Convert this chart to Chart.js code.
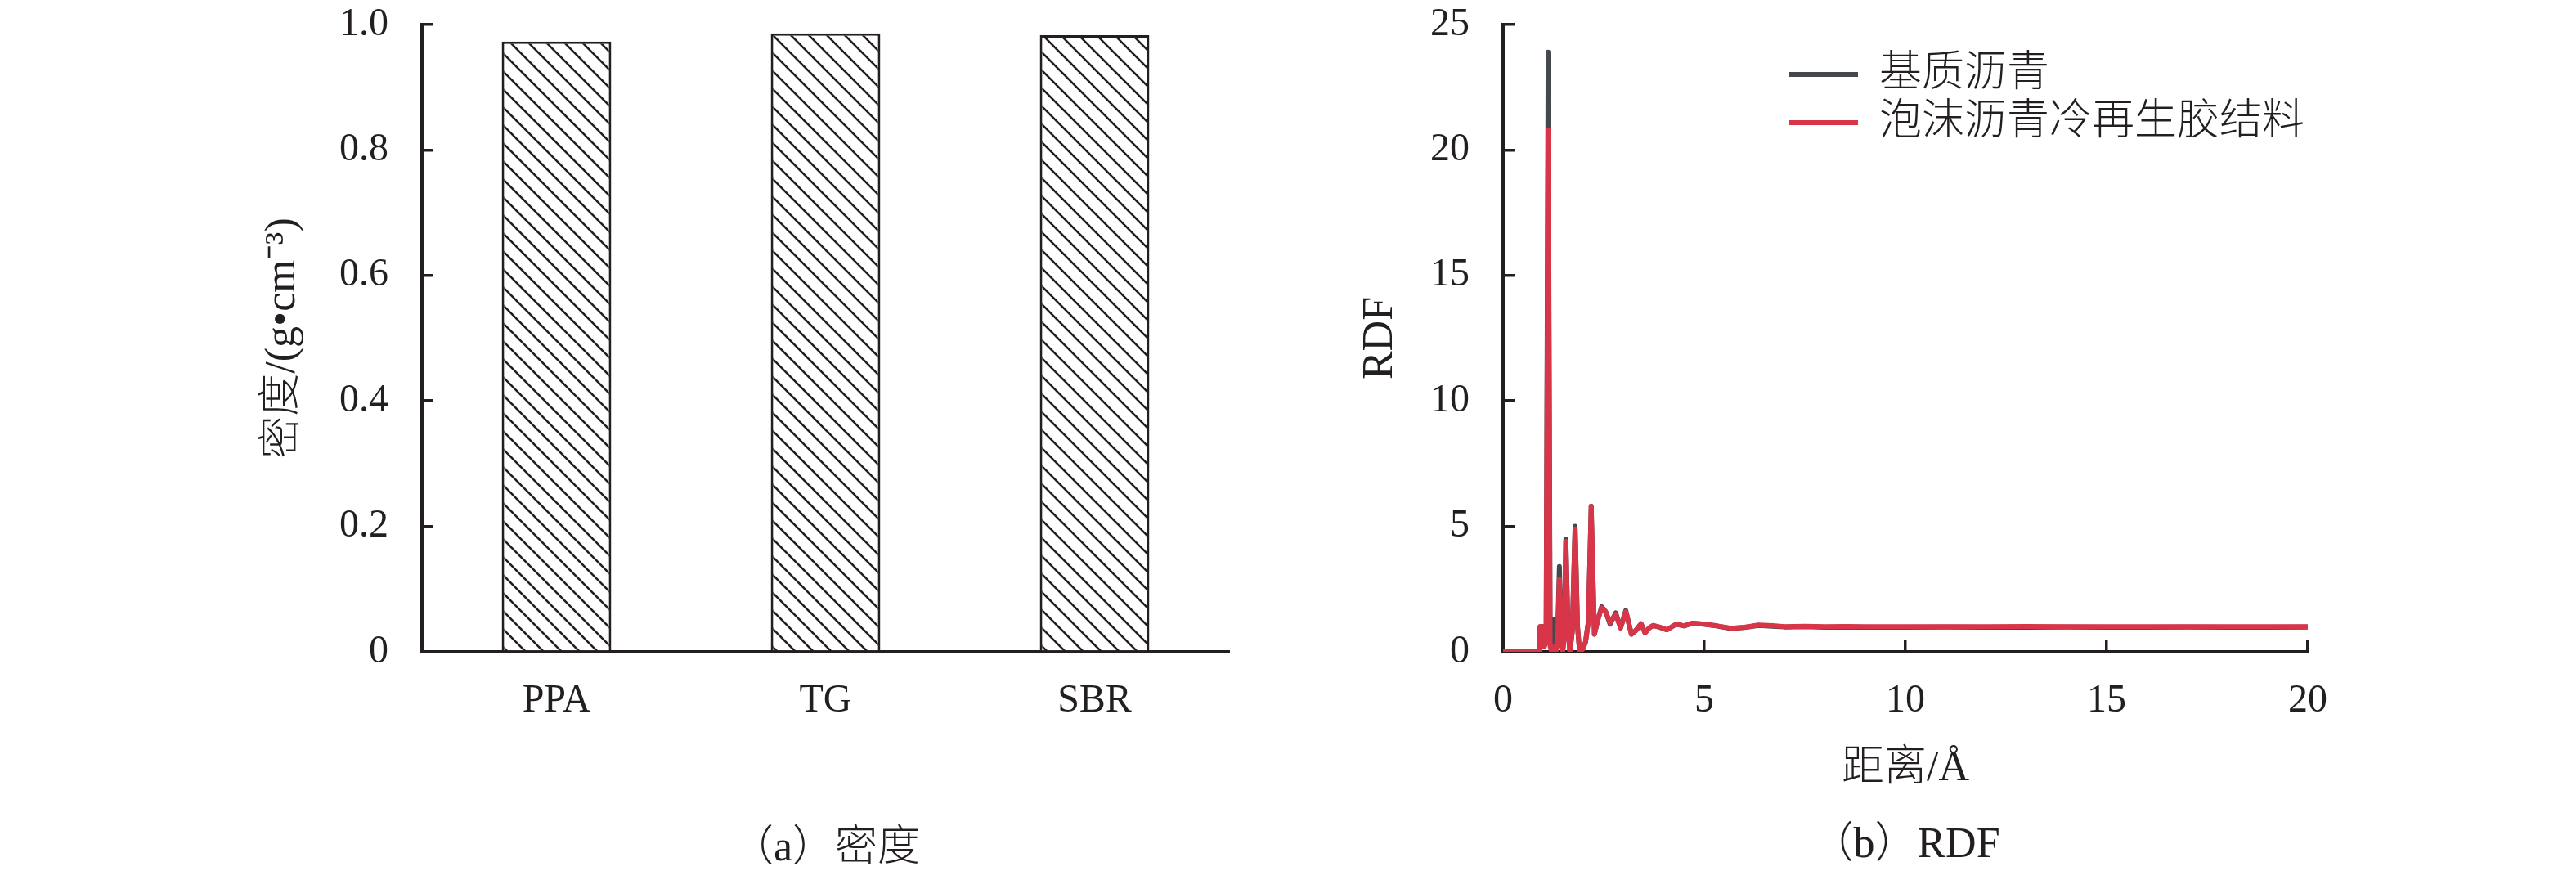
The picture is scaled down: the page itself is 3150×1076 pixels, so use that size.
<!DOCTYPE html>
<html>
<head>
<meta charset="utf-8">
<title>密度 / RDF</title>
<script src="https://cdn.jsdelivr.net/npm/chart.js@4.4.1/dist/chart.umd.min.js"></script>
<style>
  body { margin: 0; background: #fff; }
  #wrap { position: relative; width: 3150px; height: 1076px; }
  canvas { position: absolute; top: 0; }
</style>
</head>
<body>
<div id="wrap">
  <canvas id="densityChart" width="1600" height="1076" style="left:0"></canvas>
  <canvas id="rdfChart" width="1550" height="1076" style="left:1600px"></canvas>
</div>
<script>
// (a) density
const categories = ["PPA", "TG", "SBR"];
const density = [0.973, 0.986, 0.983];

// (b) RDF
const rdfDistance = [
  0, 0.9, 0.91, 0.92, 1.0, 1.02, 1.07, 1.12, 1.17, 1.21,
  1.26, 1.31, 1.35, 1.40, 1.44, 1.48, 1.52, 1.56, 1.61, 1.66,
  1.72, 1.79, 1.85, 1.9, 1.98, 2.05, 2.12, 2.19, 2.27, 2.36,
  2.45, 2.55, 2.66, 2.8, 2.92, 3.05, 3.19, 3.3, 3.43, 3.53,
  3.63, 3.73, 3.9, 4.07, 4.3, 4.5, 4.7, 5.0, 5.3, 5.66,
  6.0, 6.35, 6.7, 7.0, 7.5, 8.0, 8.5, 9.0, 10, 11,
  12, 13, 14, 15, 16, 17, 18, 19, 20
];
const rdfBase = [
  0, 0, 0, 1.0, 1.0, 0.2, 0.4, 23.9, 0.3, 0,
  1.3, 0, 0.3, 3.4, 0.8, 0, 0.6, 4.5, 1.2, 0,
  0.8, 5.0, 1.0, 0.05, 0.1, 0.4, 1.2, 5.8, 0.7, 1.3,
  1.8, 1.6, 1.1, 1.55, 0.95, 1.65, 0.7, 0.85, 1.12, 0.75,
  0.95, 1.05, 0.97, 0.87, 1.1, 1.03, 1.14, 1.1, 1.03, 0.93,
  0.97, 1.05, 1.02, 0.99, 1.0, 0.98, 0.99, 0.98, 0.98, 0.99,
  0.98, 0.98, 0.99, 0.98, 0.98, 0.99, 0.98, 0.98, 0.99
];
const rdfFoam = [
  0, 0, 0, 1.0, 1.0, 0.2, 0.4, 20.8, 0.2, 0,
  0.2, 0, 0.3, 2.9, 0.6, 0, 0.5, 4.4, 1.1, 0,
  0.8, 4.9, 1.0, 0.05, 0.1, 0.4, 1.2, 5.8, 0.7, 1.3,
  1.75, 1.6, 1.15, 1.5, 0.95, 1.6, 0.7, 0.85, 1.1, 0.75,
  0.95, 1.05, 0.98, 0.88, 1.1, 1.04, 1.14, 1.1, 1.04, 0.94,
  0.98, 1.07, 1.04, 1.0, 1.02, 1.0, 1.01, 1.0, 1.0, 1.0,
  1.0, 1.01, 1.0, 1.0, 1.0, 1.0, 1.0, 1.0, 1.0
];
const seriesNames = ["基质沥青", "泡沫沥青冷再生胶结料"];

const ink = "#231f20";
const serif = '"Liberation Serif", "Noto Sans CJK SC", serif';
const tickFont = { family: serif, size: 48 };
const textFont = { family: serif, size: 52, weight: 300 };

Chart.defaults.animation = false;
Chart.defaults.color = ink;

function hatchPattern(ctx) {
    const size = 22;
    const c = document.createElement("canvas");
    c.width = size;
    c.height = size;
    const g = c.getContext("2d");
    g.fillStyle = "#fff";
    g.fillRect(0, 0, size, size);
    g.strokeStyle = ink;
    g.lineWidth = 2.6;
    g.beginPath();
    g.moveTo(0, 0); g.lineTo(size, size);
    g.moveTo(-size / 2, size / 2); g.lineTo(size / 2, size * 1.5);
    g.moveTo(size / 2, -size / 2); g.lineTo(size * 1.5, size / 2);
    g.stroke();
    return ctx.createPattern(c, "repeat");
}

// y axes: fixed width, and no extra room asked for the big tick padding
const fixY = w => s => { s.width = w; s.paddingTop = 0; s.paddingBottom = 0; };

// left chart
const densityCtx = document.getElementById("densityChart").getContext("2d");
new Chart(densityCtx, {
    type: "bar",
    data: {
        labels: categories,
        datasets: [{
            data: density,
            backgroundColor: hatchPattern(densityCtx),
            borderColor: ink,
            borderWidth: 3,
            categoryPercentage: 1,
            barPercentage: 0.407
        }]
    },
    options: {
        responsive: false,
        devicePixelRatio: 1,
        layout: { padding: { left: 0, right: 97, top: 30, bottom: 0 } },
        plugins: {
            legend: { display: false },
            tooltip: { enabled: false },
            title: {
                display: true,
                position: "bottom",
                fullSize: false,
                text: "（a）密度",
                font: textFont,
                color: ink,
                padding: { top: 0, bottom: 6 }
            }
        },
        scales: {
            x: {
                grid: { drawOnChartArea: false, drawTicks: false },
                border: { width: 4, color: ink },
                ticks: { font: tickFont, color: ink, padding: 32 },
                afterFit: s => { s.height = 210.6; }
            },
            y: {
                min: 0,
                max: 1,
                ticks: {
                    stepSize: 0.2,
                    font: tickFont,
                    color: ink,
                    padding: 55,
                    callback: v => v === 0 ? "0" : v.toFixed(1)
                },
                grid: { drawOnChartArea: false, tickLength: -14, lineWidth: 3.5, color: ink },
                border: { width: 4, color: ink },
                title: {
                    display: true,
                    text: "密度/(g•cm⁻³)",
                    font: textFont,
                    color: ink,
                    padding: { top: 315, bottom: 0 }
                },
                afterFit: fixY(516)
            }
        }
    }
});

// move the legend into the top right of the plot area
const legendInside = {
    id: "legendInside",
    afterLayout(chart) {
        const lg = chart.legend, a = chart.chartArea;
        lg.left = a.left + 343;
        lg.right = a.right;
        lg.top = a.top + 28;
        lg.bottom = a.bottom;
    }
};

const toPoints = ys => rdfDistance.map((x, i) => ({ x: x, y: ys[i] }));

// right chart
new Chart(document.getElementById("rdfChart"), {
    type: "line",
    data: {
        datasets: [{
            label: seriesNames[0],
            data: toPoints(rdfBase),
            borderColor: "#45484f",
            backgroundColor: "#45484f",
            borderWidth: 6,
            borderCapStyle: "round",
            borderJoinStyle: "round",
            pointRadius: 0,
            tension: 0,
            order: 1
        }, {
            label: seriesNames[1],
            data: toPoints(rdfFoam),
            borderColor: "#d83548",
            backgroundColor: "#d83548",
            borderWidth: 6,
            borderCapStyle: "round",
            borderJoinStyle: "round",
            pointRadius: 0,
            tension: 0,
            order: 0
        }]
    },
    options: {
        responsive: false,
        devicePixelRatio: 1,
        layout: { padding: { left: 0, right: 328, top: 30, bottom: 0 } },
        plugins: {
            tooltip: { enabled: false },
            legend: {
                position: "chartArea",
                align: "start",
                labels: {
                    usePointStyle: true,
                    pointStyle: "line",
                    pointStyleWidth: 84,
                    font: textFont,
                    color: ink,
                    padding: 7,
                    sort: (a, b) => a.datasetIndex - b.datasetIndex
                }
            },
            title: {
                display: true,
                position: "bottom",
                fullSize: false,
                text: "（b）RDF",
                font: textFont,
                color: ink,
                padding: { top: 0, bottom: 10 }
            }
        },
        scales: {
            x: {
                type: "linear",
                min: 0,
                max: 20,
                ticks: { stepSize: 5, font: tickFont, color: ink, padding: 46 },
                grid: { drawOnChartArea: false, tickLength: -14, lineWidth: 3.5, color: ink },
                border: { width: 4, color: ink },
                title: {
                    display: true,
                    text: "距离/Å",
                    font: textFont,
                    color: ink,
                    padding: { top: 0, bottom: 32 }
                },
                afterFit: s => { s.height = 206.6; }
            },
            y: {
                min: 0,
                max: 25,
                ticks: { stepSize: 5, font: tickFont, color: ink, padding: 55 },
                grid: { drawOnChartArea: false, tickLength: -14, lineWidth: 3.5, color: ink },
                border: { width: 4, color: ink },
                title: {
                    display: true,
                    text: "RDF",
                    font: textFont,
                    color: ink,
                    padding: { top: 57, bottom: 0 }
                },
                afterFit: fixY(238)
            }
        }
    },
    plugins: [legendInside]
});
</script>
</body>
</html>
